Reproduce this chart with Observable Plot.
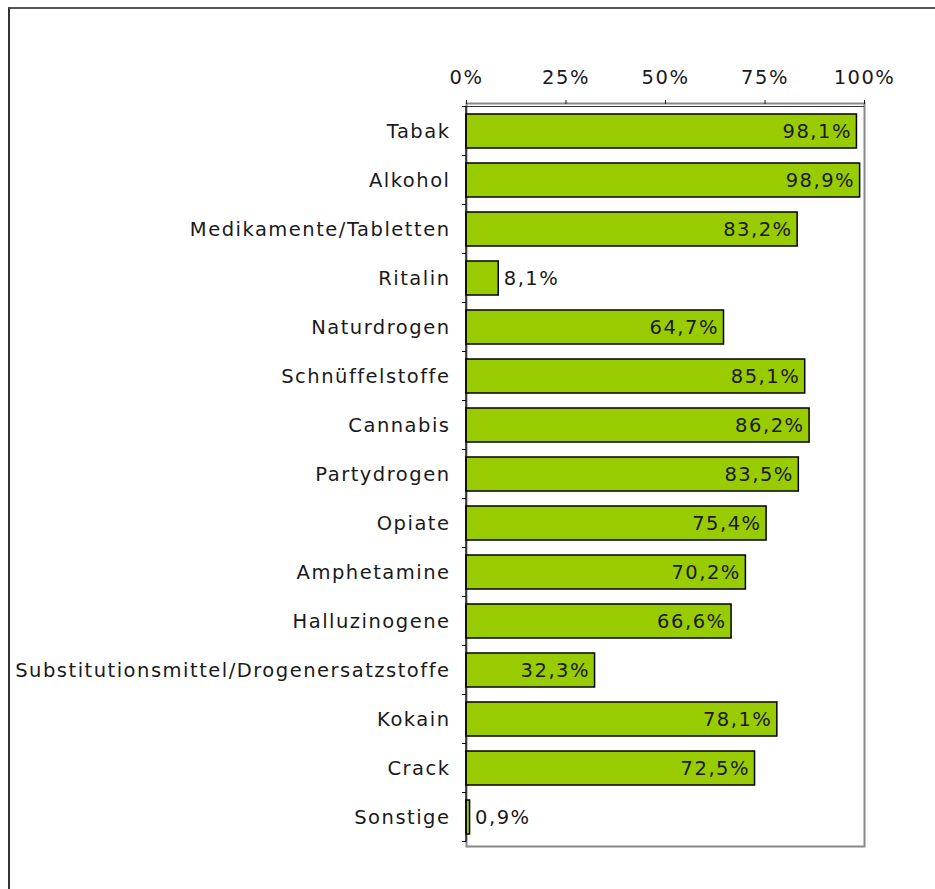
<!DOCTYPE html>
<html>
<head>
<meta charset="utf-8">
<script src="https://cdn.jsdelivr.net/npm/d3@7"></script>
<script src="https://cdn.jsdelivr.net/npm/@observablehq/plot@0.6"></script>
<style>
  body { margin: 0; background: #fff; }
  #wrap { position: relative; width: 935px; height: 889px; }
  #outer { position: absolute; left: 8px; top: 7px; width: 927px; height: 882px;
           border-left: 2px solid #333; border-top: 2px solid #555; box-sizing: border-box; }
  #chart { position: absolute; left: 0; top: 0; }
</style>
</head>
<body>
<div id="wrap"><div id="outer"></div><div id="chart"></div></div>
<script>
const categories = ["Tabak","Alkohol","Medikamente/Tabletten","Ritalin","Naturdrogen","Schnüffelstoffe","Cannabis","Partydrogen","Opiate","Amphetamine","Halluzinogene","Substitutionsmittel/Drogenersatzstoffe","Kokain","Crack","Sonstige"];
const values = [98.1, 98.9, 83.2, 8.1, 64.7, 85.1, 86.2, 83.5, 75.4, 70.2, 66.6, 32.3, 78.1, 72.5, 0.9];
const xTicks = [0, 25, 50, 75, 100];

const data = categories.map((c, i) => ({cat: c, v: values[i], label: values[i].toFixed(1).replace(".", ",") + "%"}));
const inside = data.filter(d => d.v >= 20);
const outside = data.filter(d => d.v < 20);

const font = "DejaVu Sans, Verdana, sans-serif";
const fs = 19.5;

function boundaryTicks(index, scales) {
  const y = scales.y, x = scales.x;
  const step = y(categories[1]) - y(categories[0]);
  const bw = y.bandwidth ? y.bandwidth() : step * 0.7;
  const off = (step - bw) / 2;
  const g = document.createElementNS("http://www.w3.org/2000/svg", "g");
  const x0 = x(0);
  const ys = categories.map(c => y(c) - off);
  ys.push(y(categories[categories.length - 1]) + bw + off);
  for (const yy of ys) {
    const l = document.createElementNS("http://www.w3.org/2000/svg", "line");
    l.setAttribute("x1", x0 - 4); l.setAttribute("x2", x0);
    l.setAttribute("y1", yy); l.setAttribute("y2", yy);
    l.setAttribute("stroke", "#000"); l.setAttribute("stroke-width", 1);
    g.appendChild(l);
  }
  const top = ys[0];
  const t = document.createElementNS("http://www.w3.org/2000/svg", "line");
  t.setAttribute("x1", x0); t.setAttribute("x2", x(100));
  t.setAttribute("y1", top); t.setAttribute("y2", top);
  t.setAttribute("stroke", "#333"); t.setAttribute("stroke-width", 1);
  g.appendChild(t);
  const lft = document.createElementNS("http://www.w3.org/2000/svg", "line");
  lft.setAttribute("x1", x0); lft.setAttribute("x2", x0);
  lft.setAttribute("y1", top); lft.setAttribute("y2", ys[ys.length - 1]);
  lft.setAttribute("stroke", "#000"); lft.setAttribute("stroke-width", 1.2);
  g.appendChild(lft);
  return g;
}

const plot = Plot.plot({
  width: 935,
  height: 889,
  marginLeft: 466,
  marginRight: 71,
  marginTop: 103,
  marginBottom: 43,
  style: {fontFamily: font, fontSize: fs + "px", color: "#1a1a1a", background: "transparent", letterSpacing: "1.5px"},
  x: {domain: [0, 100], axis: null},
  y: {domain: categories, paddingInner: 0.3, paddingOuter: 0.15, axis: null},
  marks: [
    Plot.frame({stroke: "#888", strokeWidth: 2}),
    Plot.barX(data, {x: "v", y: "cat", fill: "#99cc00", stroke: "#000", strokeWidth: 1.5}),
    Plot.axisX(xTicks, {anchor: "top", tickSize: 4, tickPadding: 16, tickFormat: d => d + "%", fontSize: fs, label: null}),
    Plot.axisY({anchor: "left", tickSize: 0, tickPadding: 16, fontSize: fs, label: null}),
    boundaryTicks,
    Plot.text(inside, {x: "v", y: "cat", text: "label", textAnchor: "end", dx: -5, fontSize: fs, fill: "#1a1a1a"}),
    Plot.text(outside, {x: "v", y: "cat", text: "label", textAnchor: "start", dx: 5, fontSize: fs, fill: "#1a1a1a"})
  ]
});
document.getElementById("chart").appendChild(plot);
</script>
</body>
</html>
